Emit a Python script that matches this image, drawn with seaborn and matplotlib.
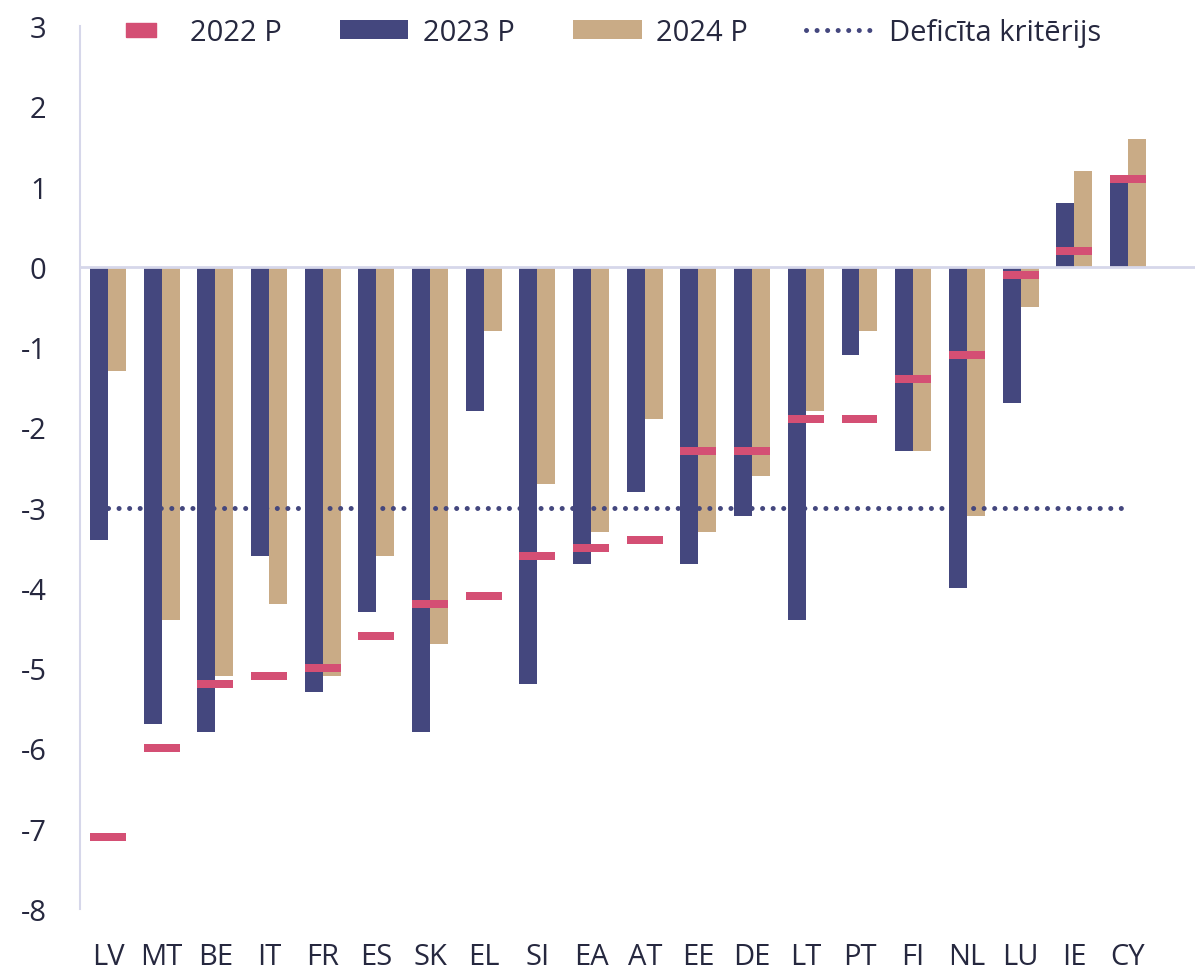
import pandas as pd
import seaborn as sns
import matplotlib.pyplot as plt
from matplotlib.patches import Patch
from matplotlib.lines import Line2D

# values (% of GDP)
countries = ['LV', 'MT', 'BE', 'IT', 'FR', 'ES', 'SK', 'EL', 'SI', 'EA',
             'AT', 'EE', 'DE', 'LT', 'PT', 'FI', 'NL', 'LU', 'IE', 'CY']
v2022 = [-7.1, -6.0, -5.2, -5.1, -5.0, -4.6, -4.2, -4.1, -3.6, -3.5,
         -3.4, -2.3, -2.3, -1.9, -1.9, -1.4, -1.1, -0.1, 0.2, 1.1]
v2023 = [-3.4, -5.7, -5.8, -3.6, -5.3, -4.3, -5.8, -1.8, -5.2, -3.7,
         -2.8, -3.7, -3.1, -4.4, -1.1, -2.3, -4.0, -1.7, 0.8, 1.1]
v2024 = [-1.3, -4.4, -5.1, -4.2, -5.1, -3.6, -4.7, -0.8, -2.7, -3.3,
         -1.9, -3.3, -2.6, -1.8, -0.8, -2.3, -3.1, -0.5, 1.2, 1.6]
deficit_limit = -3

navy = '#44477E'
tan = '#C9AB86'
pink = '#D44F74'
grid_col = '#D6D7EA'
text_col = '#26283F'

df = pd.DataFrame({
    'country': countries * 2,
    'value': v2023 + v2024,
    'year': ['2023 P'] * len(countries) + ['2024 P'] * len(countries),
})

sns.set_style('white')
plt.rcParams['font.family'] = ['Open Sans', 'DejaVu Sans']
plt.rcParams['axes.unicode_minus'] = False

fig = plt.figure(figsize=(11.95, 9.7), dpi=100)
ax = fig.add_axes([0.067, 0.062, 0.933, 0.91])

bar_w = 0.67
sns.barplot(data=df, x='country', y='value', hue='year',
            palette=[navy, tan], width=bar_w, gap=0, dodge=True,
            saturation=1, legend=False, linewidth=0, ax=ax, zorder=2)

# 2022 markers across both bars
x = list(range(len(countries)))
ax.bar(x, [0.1] * len(x), bottom=[v - 0.05 for v in v2022], width=bar_w,
       color=pink, linewidth=0, zorder=4)

# deficit criterion line
ax.plot([x[0], x[-1]], [deficit_limit, deficit_limit], color=navy, lw=3.6,
        dashes=(0.01, 2.1), dash_capstyle='round', zorder=3)

ax.axhline(0, color=grid_col, lw=2, zorder=2.5)

ax.set_ylim(-8, 3)
ax.set_xlim(-0.52, 20.25)
ax.set_yticks(range(-8, 4))
ax.set_xlabel('')
ax.set_ylabel('')
for s in ['top', 'right', 'bottom']:
    ax.spines[s].set_visible(False)
ax.spines['left'].set_color(grid_col)
ax.spines['left'].set_linewidth(1.5)
ax.tick_params(axis='both', length=0, labelsize=21, colors=text_col)
ax.tick_params(axis='y', pad=24)
ax.tick_params(axis='x', pad=24)

rect_marker = [(-1, -0.45), (1, -0.45), (1, 0.45), (-1, 0.45), (-1, -0.45)]
handles = [
    Line2D([], [], marker=rect_marker, ls='', color=pink, markersize=22),
    Patch(facecolor=navy, linewidth=0),
    Patch(facecolor=tan, linewidth=0),
    Line2D([], [], color=navy, lw=3.6, dashes=(0.01, 2.1), dash_capstyle='round'),
]
labels = ['2022 P', '2023 P', '2024 P', 'Deficīta kritērijs']
leg = ax.legend(handles, labels, ncol=4, frameon=False, loc='center',
                bbox_to_anchor=(0.47, 0.993), fontsize=21, handlelength=2.35,
                handleheight=0.6, columnspacing=2.0, handletextpad=0.5)
for t in leg.get_texts():
    t.set_color(text_col)

fig.savefig('out.png', dpi=100)
